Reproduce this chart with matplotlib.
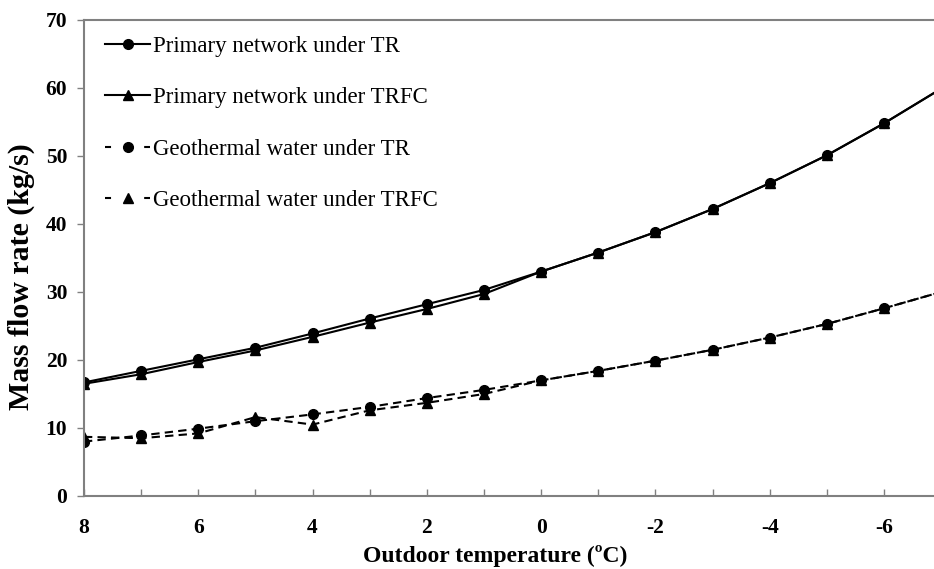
import matplotlib
matplotlib.use('Agg')
import matplotlib.pyplot as plt
from matplotlib.ticker import MultipleLocator, FixedLocator

plt.rcParams['font.family'] = ['Liberation Serif', 'DejaVu Serif']
plt.rcParams['axes.unicode_minus'] = False

#############################################
# DATA
#############################################

temps = [8, 7, 6, 5, 4, 3, 2, 1, 0, -1, -2, -3, -4, -5, -6, -7]

primary_tr = [16.7, 18.4, 20.1, 21.8, 23.9, 26.1, 28.2, 30.3, 33.0,
              35.8, 38.8, 42.2, 46.0, 50.1, 54.8, 59.9]
primary_trfc = [16.5, 17.9, 19.7, 21.4, 23.4, 25.5, 27.5, 29.7, 33.0,
                35.8, 38.8, 42.2, 46.0, 50.1, 54.8, 59.9]
geo_tr = [8.0, 8.9, 9.9, 11.0, 12.0, 13.1, 14.4, 15.6, 17.0,
          18.4, 19.9, 21.5, 23.3, 25.3, 27.6, 30.0]
geo_trfc = [8.7, 8.5, 9.2, 11.6, 10.5, 12.6, 13.7, 15.0, 17.0,
            18.4, 19.9, 21.5, 23.3, 25.3, 27.6, 30.0]

labels = ['Primary network under TR', 'Primary network under TRFC',
          'Geothermal water under TR', 'Geothermal water under TRFC']

x_ticks = [8, 6, 4, 2, 0, -2, -4, -6]
y_ticks = [0, 10, 20, 30, 40, 50, 60, 70]

#############################################
# PLOT
#############################################

fig = plt.figure(figsize=(9.34, 5.69), dpi=100)
ax = fig.add_axes([0.0899, 0.1283, 0.9101, 0.8366])

grey = '#808080'
dash = (0, (4, 2.5))
ax.plot(temps, primary_tr, color='black', lw=1.5, marker='o', ms=7, label=labels[0])
ax.plot(temps, primary_trfc, color='black', lw=1.5, marker='^', ms=7, label=labels[1])
ax.plot(temps, geo_tr, color='black', lw=1.5, ls=dash, marker='o', ms=7, label=labels[2])
ax.plot(temps, geo_trfc, color='black', lw=1.5, ls=dash, marker='^', ms=7, label=labels[3])

ax.set_xlim(8, -6.875)
ax.set_ylim(0, 70)
ax.xaxis.set_major_locator(FixedLocator(x_ticks))
ax.xaxis.set_minor_locator(MultipleLocator(1))
ax.set_yticks(y_ticks)

for side in ['left', 'bottom', 'top']:
    ax.spines[side].set_color(grey)
    ax.spines[side].set_linewidth(1.5)
ax.spines['right'].set_visible(False)

ax.tick_params(axis='x', which='both', direction='in', length=5, width=1, color=grey,
               pad=16, labelsize=15.5)
ax.tick_params(axis='y', which='both', direction='out', length=5, width=1, color=grey,
               pad=7, labelsize=15.5)
for lab in ax.get_xticklabels() + ax.get_yticklabels():
    lab.set_fontweight('bold')

ax.set_xlabel('Outdoor temperature (ºC)', fontsize=17, fontweight='bold')
ax.set_ylabel('Mass flow rate (kg/s)', fontsize=21.5, fontweight='bold')
ax.xaxis.set_label_coords(0.4835, -0.103)
ax.yaxis.set_label_coords(-0.0575, 0.46)

leg = ax.legend(loc='upper left', bbox_to_anchor=(0.025, 0.967), frameon=False,
                fontsize=16.5, handlelength=1.96, handletextpad=0.13, labelspacing=1.33,
                borderpad=0, borderaxespad=0)
# dashed entries show one short dash on each side of the marker
for line in leg.get_lines()[2:]:
    line.set_linestyle((0, (2.9, 15.9)))

fig.savefig('out.png', dpi=100)
